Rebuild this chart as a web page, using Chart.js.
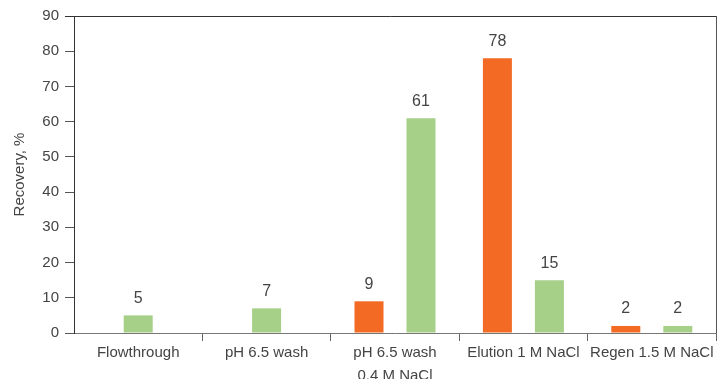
<!DOCTYPE html>
<html>
<head>
<meta charset="utf-8">
<script src="https://cdn.jsdelivr.net/npm/chart.js@4"></script>
<style>
  html, body { margin: 0; padding: 0; background: #fff; overflow: hidden; }
  #wrap { width: 722px; height: 379px; }
</style>
</head>
<body>
<div id="wrap"><canvas id="recoveryChart" width="722" height="379"></canvas></div>
<script>
/* Recovery per fraction, two samples */

const steps = ["Flowthrough", "pH 6.5 wash", ["pH 6.5 wash", "0.4 M NaCl"], "Elution 1 M NaCl", "Regen 1.5 M NaCl"];
const orangeValues = [null, null, 9, 78, 2];
const greenValues = [5, 7, 61, 15, 2];
const yTicks = [0, 10, 20, 30, 40, 50, 60, 70, 80, 90];

const ORANGE = "#f26a24";
const GREEN = "#a6cf88";
const TEXT = "#444";
const FONT = "'Liberation Sans', Arial, sans-serif";

// box round the plot area
const framePlugin = {
    id: "frame",
    afterDraw(chart) {
        const { ctx, chartArea: a } = chart;
        ctx.save();
        ctx.lineWidth = 1;
        ctx.strokeStyle = "#333";
        ctx.beginPath();
        ctx.moveTo(a.left - 9, a.top + 0.5);
        ctx.lineTo(a.right + 0.5, a.top + 0.5);
        ctx.stroke();
        ctx.strokeStyle = "#555";
        ctx.beginPath();
        ctx.moveTo(a.right + 0.5, a.top);
        ctx.lineTo(a.right + 0.5, a.bottom);
        ctx.stroke();
        ctx.restore();
    }
};

// value printed above each bar
const valueLabels = {
    id: "valueLabels",
    afterDatasetsDraw(chart) {
        const { ctx } = chart;
        ctx.save();
        ctx.font = "16px " + FONT;
        ctx.fillStyle = TEXT;
        ctx.textAlign = "center";
        ctx.textBaseline = "middle";
        chart.data.datasets.forEach((ds, i) => {
            chart.getDatasetMeta(i).data.forEach((bar, j) => {
                const v = ds.data[j];
                if (v === null || v === undefined) return;
                ctx.fillText(String(v), bar.x, bar.y - 17);
            });
        });
        ctx.restore();
    }
};

const ctx = document.getElementById("recoveryChart").getContext("2d");

new Chart(ctx, {
    type: "bar",
    data: {
        labels: steps,
        datasets: [
            { label: "Orange", data: orangeValues, backgroundColor: ORANGE },
            { label: "Green", data: greenValues, backgroundColor: GREEN }
        ]
    },
    options: {
        responsive: false,
        animation: false,
        layout: { padding: { top: 16, right: 6, left: 0, bottom: 0 } },
        datasets: {
            bar: {
                skipNull: true,
                categoryPercentage: 0.81,
                barPercentage: 0.56,
                maxBarThickness: 29
            }
        },
        plugins: {
            legend: { display: false },
            tooltip: { enabled: false }
        },
        scales: {
            x: {
                grid: {
                    offset: true,
                    drawOnChartArea: false,
                    tickLength: 8,
                    color: c => (c.index === 0 || c.index === steps.length) ? "rgba(0,0,0,0)" : "#666"
                },
                border: { display: true, color: "#777" },
                ticks: {
                    color: TEXT,
                    font: { family: FONT, size: 15, lineHeight: 1.5 },
                    padding: 1,
                    maxRotation: 0,
                    autoSkip: false
                },
                afterFit(scale) { scale.height = 46; }
            },
            y: {
                min: 0,
                max: 90,
                afterBuildTicks(scale) { scale.ticks = yTicks.map(v => ({ value: v })); },
                grid: {
                    drawOnChartArea: false,
                    tickLength: 9,
                    color: "#555"
                },
                border: { display: true, color: "#333" },
                ticks: {
                    color: TEXT,
                    font: { family: FONT, size: 15 },
                    padding: 6
                },
                title: {
                    display: true,
                    text: "Recovery, %",
                    color: TEXT,
                    font: { family: FONT, size: 15 },
                    padding: { top: 11, bottom: 4 }
                },
                afterFit(scale) { scale.width = 74; }
            }
        }
    },
    plugins: [framePlugin, valueLabels]
});
</script>
</body>
</html>
